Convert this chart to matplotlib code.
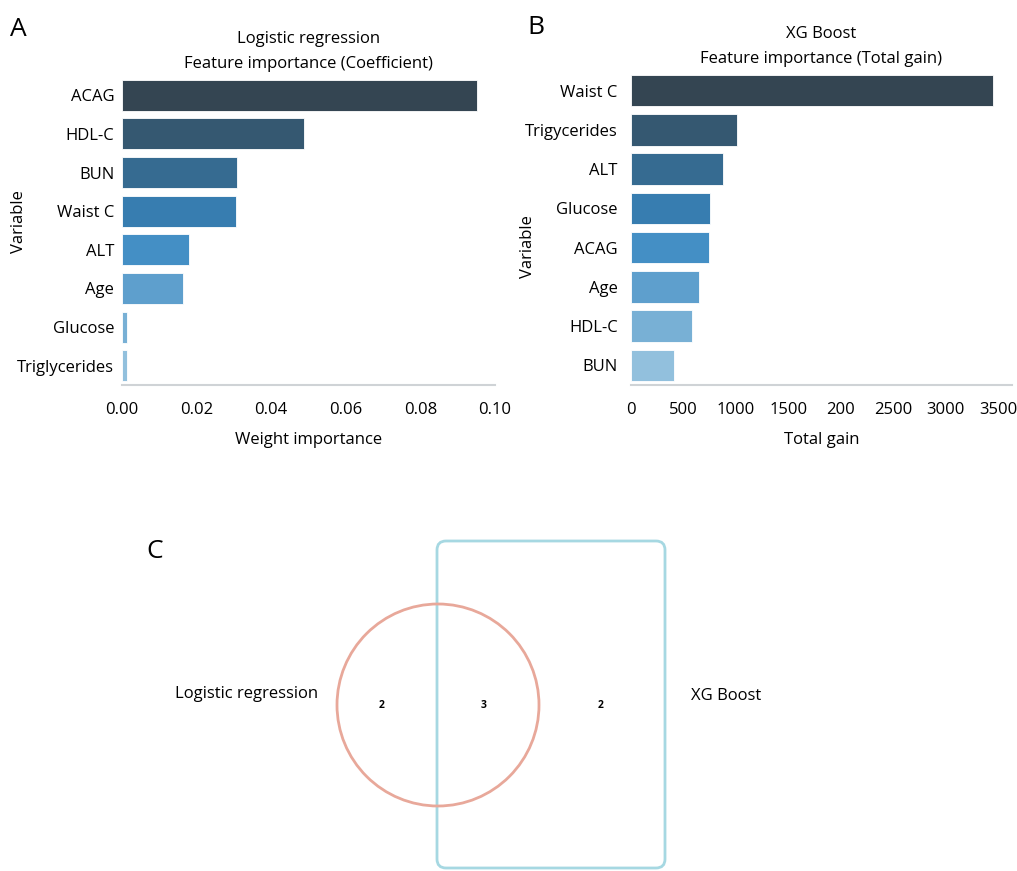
import numpy as np
import matplotlib
matplotlib.use("Agg")
import matplotlib.pyplot as plt
import seaborn as sns
from matplotlib.patches import Circle, FancyBboxPatch

plt.rcParams['font.family'] = ['Open Sans', 'DejaVu Sans']

# panel A: logistic regression coefficients
lr_vars = ["ACAG", "HDL-C", "BUN", "Waist C", "ALT", "Age", "Glucose", "Triglycerides"]
lr_vals = [0.0951, 0.0487, 0.0307, 0.0306, 0.0179, 0.0164, 0.0013, 0.0013]
lr_ticks = [0.0, 0.02, 0.04, 0.06, 0.08, 0.10]
lr_ticklabels = ["0.00", "0.02", "0.04", "0.06", "0.08", "0.10"]

# panel B: xgboost total gain
xgb_vars = ["Waist C", "Trigycerides", "ALT", "Glucose", "ACAG", "Age", "HDL-C", "BUN"]
xgb_vals = [3454, 1008, 880, 753, 746, 648, 578, 413]
xgb_ticks = [0, 500, 1000, 1500, 2000, 2500, 3000, 3500]
xgb_ticklabels = ["0", "500", "1000", "1500", "200", "2500", "3000", "3500"]

# panel C: overlap counts
venn_names = ["Logistic regression", "XG Boost"]
venn_counts = [2, 3, 2]  # lr only, both, xgb only

W, H = 1017, 871
FS = 12
fig = plt.figure(figsize=(W / 100, H / 100), dpi=100)

def px_axes(x0, y0, x1, y1):
    # pixel box (top-left origin) -> figure axes
    return fig.add_axes([x0 / W, 1 - y1 / H, (x1 - x0) / W, (y1 - y0) / H])

pal = sns.color_palette("Blues_d", 8)[::-1]

def bar_panel(ax, names, vals, ticks, ticklabels, xlim, title, xlabel, ypad):
    y = np.arange(len(names))
    ax.barh(y, vals, height=0.8, color=pal, edgecolor="white", linewidth=0.6)
    ax.set_ylim(len(names) - 0.5, -0.5)
    ax.set_xlim(*xlim)
    ax.set_yticks(y)
    ax.set_yticklabels(names, fontsize=FS)
    ax.set_xticks(ticks)
    ax.set_xticklabels(ticklabels, fontsize=FS)
    ax.tick_params(axis="x", length=0, pad=12)
    ax.tick_params(axis="y", length=0, pad=ypad)
    for s in ["top", "right", "left"]:
        ax.spines[s].set_visible(False)
    ax.spines["bottom"].set_color("#cfd3d6")
    ax.spines["bottom"].set_linewidth(1.5)
    ax.set_title(title, fontsize=FS, linespacing=1.75, pad=6)
    ax.set_xlabel(xlabel, fontsize=FS, labelpad=10)
    ax.set_ylabel("Variable", fontsize=FS)

axA = px_axes(122, 76, 495, 385)
bar_panel(axA, lr_vars, lr_vals, lr_ticks, lr_ticklabels, (0, 0.0998),
          "Logistic regression\nFeature importance (Coefficient)", "Weight importance", 5.5)
axA.yaxis.set_label_coords(-0.255, 0.53)

axB = px_axes(631, 71, 1012, 385)
bar_panel(axB, xgb_vars, xgb_vals, xgb_ticks, xgb_ticklabels, (0, 3632),
          "XG Boost\nFeature importance (Total gain)", "Total gain", 9.5)
axB.yaxis.set_label_coords(-0.25, 0.44)

fig.text(10 / W, 1 - 30 / H, "A", fontsize=19, va="center")
fig.text(527 / W, 1 - 28 / H, "B", fontsize=19, va="center")
fig.text(146 / W, 1 - 551 / H, "C", fontsize=19, va="center")

# panel C in pixel coordinates
axC = fig.add_axes([0, 0, 1, 1 - 480 / H])
axC.set_xlim(0, W)
axC.set_ylim(H, 480)
axC.axis("off")
axC.add_patch(FancyBboxPatch((437, 541), 228, 327, boxstyle="round,pad=0,rounding_size=9",
                             fill=False, edgecolor="#a6d8e2", linewidth=2))
axC.add_patch(Circle((438, 705), 101, fill=False, edgecolor="#e8a89a", linewidth=2))
axC.text(247, 694, venn_names[0], fontsize=FS, ha="center", va="center")
axC.text(726, 696, venn_names[1], fontsize=FS, ha="center", va="center")
for xx, c in zip([382, 484, 601], venn_counts):
    axC.text(xx, 705, str(c), fontsize=7.5, fontweight="bold", ha="center", va="center")

fig.savefig("out.png", dpi=100)
